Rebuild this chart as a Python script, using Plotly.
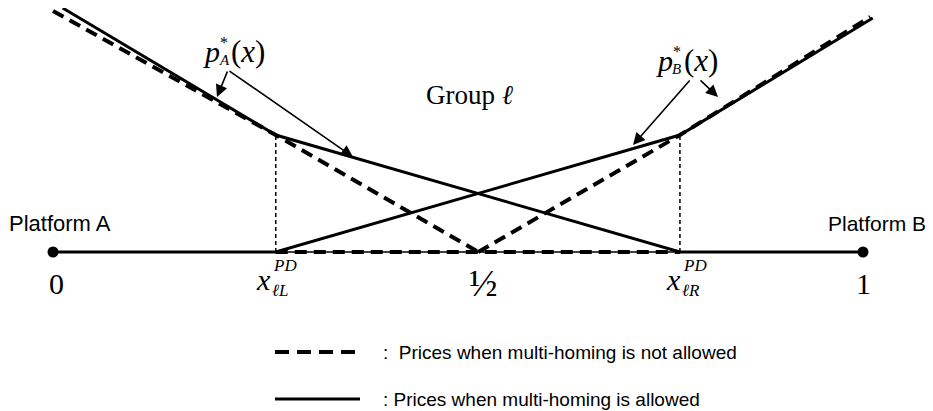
import plotly.graph_objects as go

# ---- data (location on the unit line, price) ----
x_ends = [0.0, 1.0]
x_L = 0.275       # x_{lL}^{PD}
x_half = 0.525    # 1/2 as drawn
x_R = 0.774       # x_{lR}^{PD}
p_kink = 1.0

# prices when multi-homing is NOT allowed (dashed)
dash_A_x = [0.0, x_L, x_half]
dash_A_p = [2.06, p_kink, 0.0]
dash_B_x = [x_half, x_R, 1.009]
dash_B_p = [0.0, p_kink, 2.01]
dash_floor_x = [x_L, x_R]
dash_floor_p = [0.0, 0.0]

# prices when multi-homing IS allowed (solid)
solid_A_x = [0.012, x_L, x_R, 1.0]
solid_A_p = [2.085, p_kink, 0.0, 0.0]
solid_B_x = [0.0, x_L, x_R, 1.012]
solid_B_p = [0.0, 0.0, p_kink, 2.0]

tick_labels = ["0", "½", "1"]
tick_pos = [0.0, x_half, 1.0]

WIN_W, WIN_H = 933, 411
OFF = 8                  # page body margin
W, H = WIN_W - OFF, WIN_H - OFF
X0, SX = 53.0, 810.0     # window pixel of x=0, pixels per unit
Y0, SY = 252.0, 117.0    # window pixel of p=0, pixels per price unit


def X(px):
    return (px - X0) / SX


def Y(py):
    return (Y0 - py) / SY


fig = go.Figure()

# thin axis
fig.add_trace(go.Scatter(x=x_ends, y=[0, 0], mode="lines",
                         line=dict(color="black", width=1.5), hoverinfo="skip"))
# dotted verticals
for xv in (x_L, x_R):
    fig.add_trace(go.Scatter(x=[xv, xv], y=[0, p_kink], mode="lines",
                             line=dict(color="black", width=1.5, dash="4px,3px"),
                             hoverinfo="skip"))

dash_style = dict(color="black", width=4, dash="12px,7px")
for xs, ps in ((dash_A_x, dash_A_p), (dash_B_x, dash_B_p), (dash_floor_x, dash_floor_p)):
    fig.add_trace(go.Scatter(x=xs, y=ps, mode="lines", line=dash_style, hoverinfo="skip"))

solid_style = dict(color="black", width=3)
for xs, ps in ((solid_A_x, solid_A_p), (solid_B_x, solid_B_p)):
    fig.add_trace(go.Scatter(x=xs, y=ps, mode="lines", line=solid_style, hoverinfo="skip"))

# end points
fig.add_trace(go.Scatter(x=x_ends, y=[0, 0], mode="markers",
                         marker=dict(color="black", size=11), hoverinfo="skip"))

ann = []
serif = "Liberation Serif, Times New Roman, serif"
sans = "Liberation Sans, Arial, sans-serif"


def text(px, py, s, size, family=serif, xanchor="center", yanchor="middle"):
    ann.append(dict(x=X(px), y=Y(py), xref="x", yref="y", text=s, showarrow=False,
                    font=dict(family=family, size=size, color="black"),
                    xanchor=xanchor, yanchor=yanchor))


# tick labels
label_px = {"0": 56, "½": 483, "1": 863}
for lab, xv in zip(tick_labels, tick_pos):
    size = 30 if lab != "½" else 38
    ann.append(dict(x=xv + (X(label_px[lab]) - xv), y=Y(283), xref="x", yref="y",
                    text=lab, showarrow=False,
                    font=dict(family=serif, size=size, color="black"),
                    xanchor="center", yanchor="middle"))

# x_{lL}^{PD}, x_{lR}^{PD}
for cx, sub in ((263, "ℓL"), (673, "ℓR")):
    text(cx, 279, "<i>x</i>", 30)
    text(cx + 8, 265, "<i>PD</i>", 17, xanchor="left")
    text(cx + 7, 290, "<i>%s</i>" % sub, 17, xanchor="left")

text(60, 223, "Platform A", 22, family=sans)
text(928, 223, "Platform B", 21, family=sans, xanchor="right")
text(470, 95, "Group <i>ℓ</i>", 27)

# p_A^*(x)
text(211, 51, "<i>p</i>", 30)
text(217, 60, "<i>A</i>", 15, xanchor="left")
text(218, 42, "*", 16, xanchor="left")
text(229, 51, "(<i>x</i>)", 31, xanchor="left")
# p_B^*(x)
text(664, 60, "<i>p</i>", 30)
text(670, 69, "<i>B</i>", 15, xanchor="left")
text(671, 51, "*", 16, xanchor="left")
text(682, 60, "(<i>x</i>)", 31, xanchor="left")

# arrows
for (tx, ty), (hx, hy) in (((228, 70), (217, 97)), ((228, 70), (353, 157)),
                           ((691, 79), (633, 145)), ((699, 79), (718, 97))):
    ann.append(dict(x=X(hx), y=Y(hy), ax=X(tx), ay=Y(ty), xref="x", yref="y",
                    axref="x", ayref="y", text="", showarrow=True,
                    arrowhead=2, arrowsize=1.5, arrowwidth=1.6, arrowcolor="black"))

# legend
legend_rows = [("dash", ":\u00a0 Prices when multi-homing is not allowed", 352),
               ("solid", ": Prices when multi-homing is allowed", 399)]
shapes = []
for style, lab, py in legend_rows:
    shapes.append(dict(type="line", xref="x", yref="y", x0=X(275), x1=X(360),
                       y0=Y(py), y1=Y(py),
                       line=dict(color="black", width=4 if style == "dash" else 3,
                                 dash="14px,8px" if style == "dash" else "solid")))
    text(381, py, lab, 19, family=sans, xanchor="left")

fig.update_layout(
    width=W, height=H, autosize=False,
    margin=dict(l=0, r=0, t=0, b=0),
    paper_bgcolor="white", plot_bgcolor="white",
    showlegend=False,
    xaxis=dict(range=[X(OFF), X(WIN_W)], visible=False, fixedrange=True),
    yaxis=dict(range=[Y(WIN_H), Y(OFF)], visible=False, fixedrange=True),
    annotations=ann, shapes=shapes,
)

fig.write_html("out.html")
